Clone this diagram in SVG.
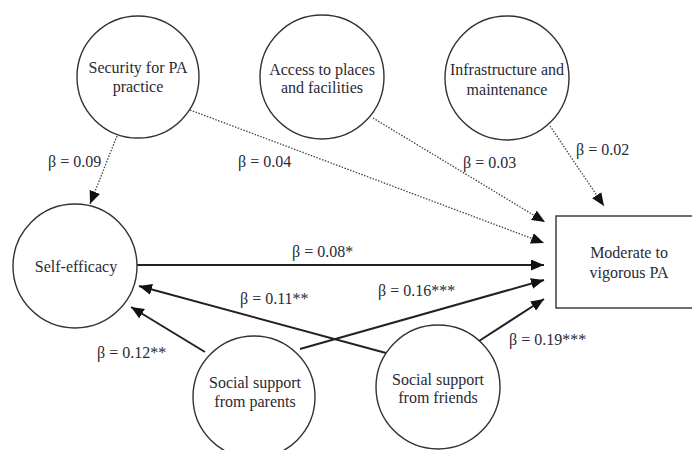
<svg xmlns="http://www.w3.org/2000/svg" width="692" height="450" viewBox="0 0 692 450">
<defs>
<marker id="ah" markerUnits="userSpaceOnUse" markerWidth="13" markerHeight="11" refX="13" refY="5.5" orient="auto">
<path d="M0,0 L13,5.5 L0,11 z" fill="#111"/>
</marker>
<style>
text{font-family:"Liberation Serif","Times New Roman",serif;font-size:16px;fill:#2a2a35}
.node{fill:#fff;stroke:#333;stroke-width:1.4}
.lbl{text-anchor:middle}
.solid{stroke:#222;stroke-width:2;fill:none}
.dot{stroke:#444;stroke-width:1.3;stroke-dasharray:1.5 1.5;fill:none}
</style>
</defs>
<rect width="692" height="450" fill="#fff"/>
<g id="connectors">
<line class="dot" x1="117" y1="136" x2="90" y2="204" marker-end="url(#ah)"/>
<line class="dot" x1="190" y1="110" x2="544" y2="243" marker-end="url(#ah)"/>
<line class="dot" x1="373" y1="118" x2="545" y2="222" marker-end="url(#ah)"/>
<line class="dot" x1="550" y1="126" x2="604" y2="206" marker-end="url(#ah)"/>
<line class="solid" x1="137" y1="265" x2="544" y2="265" marker-end="url(#ah)"/>
<line class="solid" x1="300" y1="349" x2="544" y2="280" marker-end="url(#ah)"/>
<line class="solid" x1="479" y1="341" x2="544" y2="299" marker-end="url(#ah)"/>
<line class="solid" x1="386" y1="353" x2="139" y2="286" marker-end="url(#ah)"/>
<line class="solid" x1="205" y1="352" x2="131" y2="307" marker-end="url(#ah)"/>
<text x="48" y="167">β = 0.09</text>
<text x="238" y="167">β = 0.04</text>
<text x="463" y="168">β = 0.03</text>
<text x="576" y="155">β = 0.02</text>
<text x="292" y="257">β = 0.08*</text>
<text x="240" y="304">β = 0.11**</text>
<text x="378" y="296">β = 0.16***</text>
<text x="97" y="358">β = 0.12**</text>
<text x="509" y="345">β = 0.19***</text>
</g>
<g id="security">
<circle class="node" cx="138" cy="77" r="61"/>
<text class="lbl" x="138" y="73">Security for PA</text>
<text class="lbl" x="138" y="92">practice</text>
</g>
<g id="access">
<circle class="node" cx="322" cy="77" r="62"/>
<text class="lbl" x="322" y="75">Access to places</text>
<text class="lbl" x="322" y="93">and facilities</text>
</g>
<g id="infrastructure">
<circle class="node" cx="507" cy="78" r="62"/>
<text class="lbl" x="507" y="75">Infrastructure and</text>
<text class="lbl" x="507" y="95">maintenance</text>
</g>
<g id="self-efficacy">
<circle class="node" cx="75" cy="266" r="62"/>
<text class="lbl" x="76" y="272">Self-efficacy</text>
</g>
<g id="parents">
<circle class="node" cx="254" cy="397" r="61"/>
<text class="lbl" x="255" y="388">Social support</text>
<text class="lbl" x="255" y="407">from parents</text>
</g>
<g id="friends">
<circle class="node" cx="438" cy="387" r="62"/>
<text class="lbl" x="438" y="385">Social support</text>
<text class="lbl" x="438" y="403">from friends</text>
</g>
<g id="mvpa">
<rect class="node" x="556" y="216" width="148" height="92"/>
<text class="lbl" x="629" y="258">Moderate to</text>
<text class="lbl" x="629" y="278">vigorous PA</text>
</g>
</svg>
